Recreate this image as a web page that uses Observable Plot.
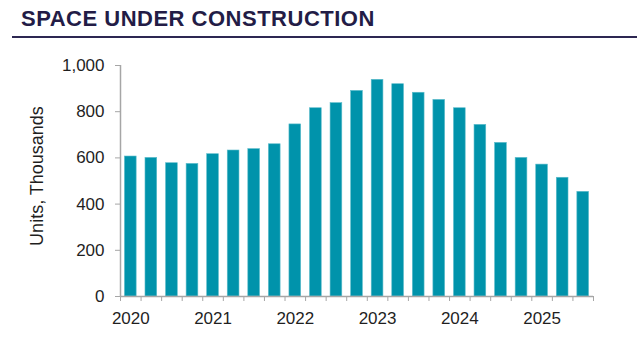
<!DOCTYPE html>
<html>
<head>
<meta charset="utf-8">
<script src="https://cdn.jsdelivr.net/npm/d3@7"></script>
<script src="https://cdn.jsdelivr.net/npm/@observablehq/plot@0.6"></script>
<style>
  html, body { margin: 0; padding: 0; background: #fff; }
  #wrap { position: relative; width: 640px; height: 338px; overflow: hidden; font-family: "Liberation Sans", Arial, sans-serif; }
  #title { position: absolute; left: 21px; top: 8px; font: bold 22px/22px "Liberation Sans", Arial, sans-serif; letter-spacing: 0.5px; color: #231c46; white-space: nowrap; z-index: 2; }
  #rule { position: absolute; left: 12px; top: 36px; width: 625px; height: 2px; background: #2d2752; z-index: 2; }
  #ylabel { position: absolute; left: 37px; top: 176px; transform: translate(-50%, -50%) rotate(-90deg); font: 18px "Liberation Sans", Arial, sans-serif; color: #1f1f1f; white-space: nowrap; z-index: 2; }
  #chart { position: absolute; left: 0; top: 0; }
</style>
</head>
<body>
<div id="wrap">
  <div id="chart"></div>
  <div id="title">SPACE UNDER CONSTRUCTION</div>
  <div id="rule"></div>
  <div id="ylabel">Units, Thousands</div>
</div>
<script>
const quarters = [
  "2020 Q1","2020 Q2","2020 Q3","2020 Q4",
  "2021 Q1","2021 Q2","2021 Q3","2021 Q4",
  "2022 Q1","2022 Q2","2022 Q3","2022 Q4",
  "2023 Q1","2023 Q2","2023 Q3","2023 Q4",
  "2024 Q1","2024 Q2","2024 Q3","2024 Q4",
  "2025 Q1","2025 Q2","2025 Q3"
];
const values = [606, 600, 577, 574, 616, 632, 638, 659, 745, 815, 837, 890, 938, 919, 882, 851, 815, 743, 665, 600, 571, 514, 453];
const yearLabels = ["2020", "2021", "2022", "2023", "2024", "2025"];
const yTicks = [0, 200, 400, 600, 800, 1000];

const data = quarters.map((q, i) => ({q, i, v: values[i]}));
const n = quarters.length;
const yearPos = yearLabels.map(y => quarters.indexOf(y + " Q1") + 0.5);
const gray = "#a6a6a6";
const textColor = "#1f1f1f";

const chart = Plot.plot({
  width: 640,
  height: 338,
  marginTop: 65,
  marginBottom: 42,
  marginLeft: 120,
  marginRight: 47,
  style: {fontFamily: "'Liberation Sans', Arial, sans-serif", fontSize: "17px", color: textColor, background: "transparent"},
  x: {type: "linear", domain: [0, n], axis: null},
  y: {domain: [0, 1000], axis: null},
  marks: [
    Plot.rectY(data, {x1: d => d.i + 0.215, x2: d => d.i + 0.785, y: "v", fill: "#0093ab", stroke: "#5cbccb", strokeWidth: 0.6}),
    Plot.axisY({ticks: yTicks, tickFormat: d3.format(","), tickSize: 5, tickPadding: 11, stroke: gray, fill: textColor, label: null, fontSize: 17}),
    Plot.axisX({ticks: d3.range(0, n + 1), tickFormat: () => "", tickSize: 5, stroke: gray, label: null}),
    Plot.axisX({ticks: yearPos, tickFormat: p => yearLabels[yearPos.indexOf(p)], tickSize: 0, tickPadding: 15, fill: textColor, label: null, fontSize: 17}),
    Plot.ruleX([0], {y1: 0, y2: 1000, stroke: gray, strokeWidth: 1.5}),
    Plot.ruleY([0], {stroke: gray, strokeWidth: 1.5})
  ]
});
document.getElementById("chart").appendChild(chart);
</script>
</body>
</html>
